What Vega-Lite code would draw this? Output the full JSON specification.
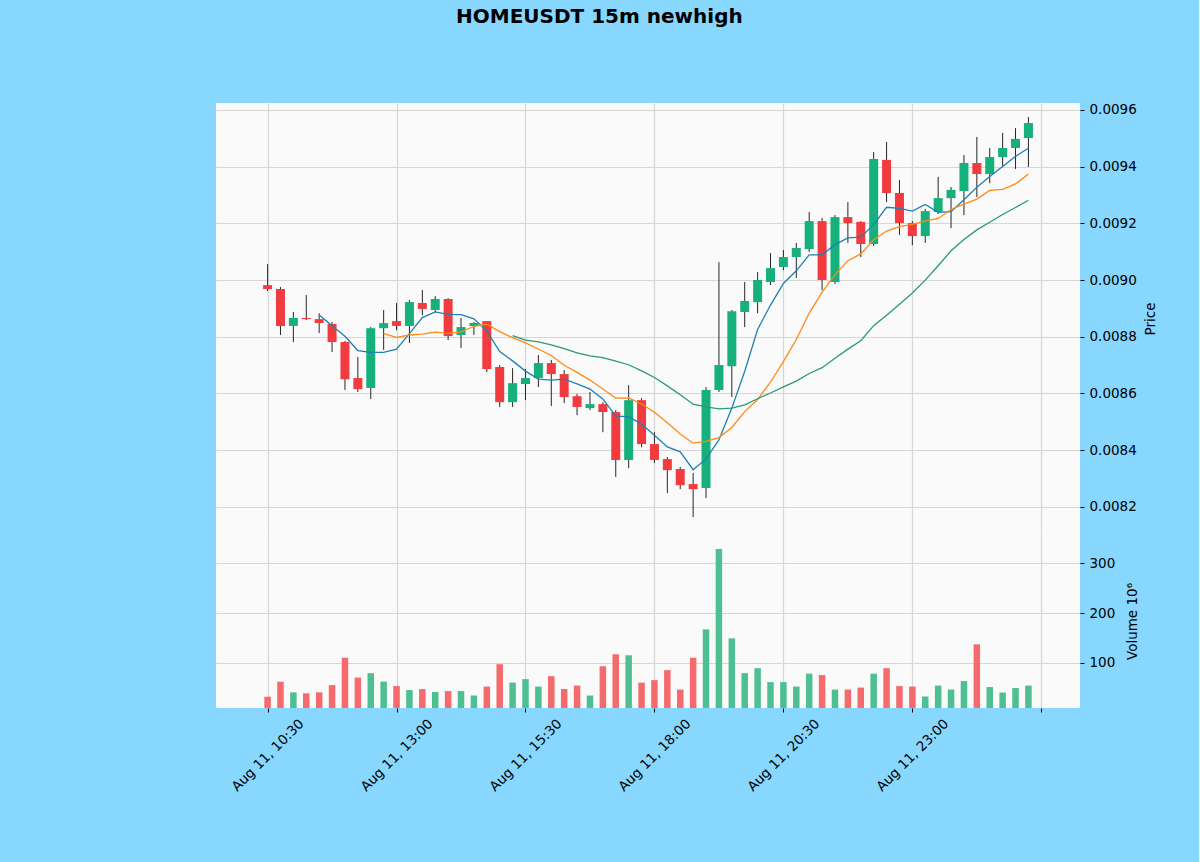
{
  "$schema": "https://vega.github.io/schema/vega-lite/v6.json",
  "background": "#87d7ff",
  "padding": {"left": 216, "top": 6, "right": 42, "bottom": 68},
  "title": {
    "text": "HOMEUSDT 15m newhigh",
    "font": "DejaVu Sans",
    "fontSize": 20,
    "fontWeight": "bold",
    "color": "#000000",
    "anchor": "start",
    "dx": 240,
    "offset": 76
  },
  "data": {
    "values": [
      {"t": "2025-08-11T10:30:00Z", "open": 0.008982, "high": 0.009056, "low": 0.008961, "close": 0.008968, "volume": 31600000},
      {"t": "2025-08-11T10:45:00Z", "open": 0.008968, "high": 0.008975, "low": 0.008806, "close": 0.008838, "volume": 61800000},
      {"t": "2025-08-11T11:00:00Z", "open": 0.008838, "high": 0.008887, "low": 0.008781, "close": 0.008866, "volume": 40400000},
      {"t": "2025-08-11T11:15:00Z", "open": 0.008866, "high": 0.008947, "low": 0.008859, "close": 0.008862, "volume": 38400000},
      {"t": "2025-08-11T11:30:00Z", "open": 0.008862, "high": 0.008883, "low": 0.008813, "close": 0.008848, "volume": 40400000, "ma5": 0.0088764},
      {"t": "2025-08-11T11:45:00Z", "open": 0.008845, "high": 0.008852, "low": 0.008746, "close": 0.008781, "volume": 55000000, "ma5": 0.0088390},
      {"t": "2025-08-11T12:00:00Z", "open": 0.008781, "high": 0.008785, "low": 0.008612, "close": 0.008650, "volume": 110000000, "ma5": 0.0088014},
      {"t": "2025-08-11T12:15:00Z", "open": 0.008654, "high": 0.008728, "low": 0.008605, "close": 0.008615, "volume": 70000000, "ma5": 0.0087512},
      {"t": "2025-08-11T12:30:00Z", "open": 0.008619, "high": 0.008834, "low": 0.008580, "close": 0.008830, "volume": 79000000, "ma5": 0.0087448},
      {"t": "2025-08-11T12:45:00Z", "open": 0.008830, "high": 0.008894, "low": 0.008753, "close": 0.008848, "volume": 62000000, "ma5": 0.0087448, "ma10": 0.0088106},
      {"t": "2025-08-11T13:00:00Z", "open": 0.008855, "high": 0.008919, "low": 0.008823, "close": 0.008838, "volume": 53000000, "ma5": 0.0087562, "ma10": 0.0087976},
      {"t": "2025-08-11T13:15:00Z", "open": 0.008838, "high": 0.008929, "low": 0.008778, "close": 0.008922, "volume": 45000000, "ma5": 0.0088106, "ma10": 0.0088060},
      {"t": "2025-08-11T13:30:00Z", "open": 0.008919, "high": 0.008965, "low": 0.008876, "close": 0.008898, "volume": 47000000, "ma5": 0.0088672, "ma10": 0.0088092},
      {"t": "2025-08-11T13:45:00Z", "open": 0.008894, "high": 0.008943, "low": 0.008887, "close": 0.008933, "volume": 41000000, "ma5": 0.0088878, "ma10": 0.0088163},
      {"t": "2025-08-11T14:00:00Z", "open": 0.008933, "high": 0.008936, "low": 0.008788, "close": 0.008802, "volume": 43000000, "ma5": 0.0088786, "ma10": 0.0088117},
      {"t": "2025-08-11T14:15:00Z", "open": 0.008806, "high": 0.008866, "low": 0.008760, "close": 0.008834, "volume": 43000000, "ma5": 0.0088778, "ma10": 0.0088170},
      {"t": "2025-08-11T14:30:00Z", "open": 0.008838, "high": 0.008852, "low": 0.008806, "close": 0.008848, "volume": 34000000, "ma5": 0.0088630, "ma10": 0.0088368},
      {"t": "2025-08-11T14:45:00Z", "open": 0.008855, "high": 0.008855, "low": 0.008675, "close": 0.008686, "volume": 52000000, "ma5": 0.0088206, "ma10": 0.0088439},
      {"t": "2025-08-11T15:00:00Z", "open": 0.008693, "high": 0.008700, "low": 0.008552, "close": 0.008569, "volume": 97000000, "ma5": 0.0087478, "ma10": 0.0088178},
      {"t": "2025-08-11T15:15:00Z", "open": 0.008569, "high": 0.008689, "low": 0.008552, "close": 0.008636, "volume": 60000000, "ma5": 0.0087146, "ma10": 0.0087966, "ma20": 0.0088036},
      {"t": "2025-08-11T15:30:00Z", "open": 0.008633, "high": 0.008686, "low": 0.008576, "close": 0.008654, "volume": 67000000, "ma5": 0.0086786, "ma10": 0.0087782, "ma20": 0.0087879},
      {"t": "2025-08-11T15:45:00Z", "open": 0.008654, "high": 0.008735, "low": 0.008622, "close": 0.008707, "volume": 52000000, "ma5": 0.0086504, "ma10": 0.0087567, "ma20": 0.0087814},
      {"t": "2025-08-11T16:00:00Z", "open": 0.008707, "high": 0.008718, "low": 0.008555, "close": 0.008668, "volume": 73000000, "ma5": 0.0086468, "ma10": 0.0087337, "ma20": 0.0087715},
      {"t": "2025-08-11T16:15:00Z", "open": 0.008668, "high": 0.008682, "low": 0.008566, "close": 0.008587, "volume": 47000000, "ma5": 0.0086504, "ma10": 0.0086991, "ma20": 0.0087577},
      {"t": "2025-08-11T16:30:00Z", "open": 0.008590, "high": 0.008598, "low": 0.008523, "close": 0.008552, "volume": 54000000, "ma5": 0.0086336, "ma10": 0.0086741, "ma20": 0.0087429},
      {"t": "2025-08-11T16:45:00Z", "open": 0.008548, "high": 0.008605, "low": 0.008541, "close": 0.008562, "volume": 34000000, "ma5": 0.0086152, "ma10": 0.0086469, "ma20": 0.0087320},
      {"t": "2025-08-11T17:00:00Z", "open": 0.008562, "high": 0.008569, "low": 0.008463, "close": 0.008534, "volume": 93000000, "ma5": 0.0085806, "ma10": 0.0086155, "ma20": 0.0087262},
      {"t": "2025-08-11T17:15:00Z", "open": 0.008534, "high": 0.008541, "low": 0.008305, "close": 0.008365, "volume": 117000000, "ma5": 0.0085200, "ma10": 0.0085834, "ma20": 0.0087137},
      {"t": "2025-08-11T17:30:00Z", "open": 0.008365, "high": 0.008629, "low": 0.008336, "close": 0.008576, "volume": 115000000, "ma5": 0.0085178, "ma10": 0.0085841, "ma20": 0.0087010},
      {"t": "2025-08-11T17:45:00Z", "open": 0.008576, "high": 0.008583, "low": 0.008410, "close": 0.008421, "volume": 60000000, "ma5": 0.0084916, "ma10": 0.0085626, "ma20": 0.0086796},
      {"t": "2025-08-11T18:00:00Z", "open": 0.008421, "high": 0.008463, "low": 0.008354, "close": 0.008365, "volume": 65000000, "ma5": 0.0084522, "ma10": 0.0085337, "ma20": 0.0086560},
      {"t": "2025-08-11T18:15:00Z", "open": 0.008368, "high": 0.008375, "low": 0.008248, "close": 0.008329, "volume": 85000000, "ma5": 0.0084112, "ma10": 0.0084959, "ma20": 0.0086263},
      {"t": "2025-08-11T18:30:00Z", "open": 0.008333, "high": 0.008340, "low": 0.008262, "close": 0.008276, "volume": 46000000, "ma5": 0.0083934, "ma10": 0.0084567, "ma20": 0.0085952},
      {"t": "2025-08-11T18:45:00Z", "open": 0.008280, "high": 0.008319, "low": 0.008163, "close": 0.008262, "volume": 110000000, "ma5": 0.0083306, "ma10": 0.0084242, "ma20": 0.0085617},
      {"t": "2025-08-11T19:00:00Z", "open": 0.008266, "high": 0.008622, "low": 0.008230, "close": 0.008612, "volume": 167000000, "ma5": 0.0083688, "ma10": 0.0084302, "ma20": 0.0085522},
      {"t": "2025-08-11T19:15:00Z", "open": 0.008612, "high": 0.009063, "low": 0.008605, "close": 0.008700, "volume": 329000000, "ma5": 0.0084358, "ma10": 0.0084440, "ma20": 0.0085455},
      {"t": "2025-08-11T19:30:00Z", "open": 0.008696, "high": 0.008894, "low": 0.008587, "close": 0.008890, "volume": 149000000, "ma5": 0.0085480, "ma10": 0.0084796, "ma20": 0.0085476},
      {"t": "2025-08-11T19:45:00Z", "open": 0.008887, "high": 0.008993, "low": 0.008834, "close": 0.008926, "volume": 79000000, "ma5": 0.0086780, "ma10": 0.0085357, "ma20": 0.0085596},
      {"t": "2025-08-11T20:00:00Z", "open": 0.008922, "high": 0.009028, "low": 0.008883, "close": 0.009000, "volume": 89000000, "ma5": 0.0088256, "ma10": 0.0085781, "ma20": 0.0085811},
      {"t": "2025-08-11T20:15:00Z", "open": 0.008993, "high": 0.009095, "low": 0.008982, "close": 0.009042, "volume": 61000000, "ma5": 0.0089116, "ma10": 0.0086402, "ma20": 0.0086014},
      {"t": "2025-08-11T20:30:00Z", "open": 0.009046, "high": 0.009106, "low": 0.009035, "close": 0.009081, "volume": 61000000, "ma5": 0.0089878, "ma10": 0.0087118, "ma20": 0.0086228},
      {"t": "2025-08-11T20:45:00Z", "open": 0.009081, "high": 0.009131, "low": 0.009007, "close": 0.009113, "volume": 52000000, "ma5": 0.0090324, "ma10": 0.0087902, "ma20": 0.0086431},
      {"t": "2025-08-11T21:00:00Z", "open": 0.009109, "high": 0.009240, "low": 0.009099, "close": 0.009208, "volume": 78000000, "ma5": 0.0090888, "ma10": 0.0088834, "ma20": 0.0086701},
      {"t": "2025-08-11T21:15:00Z", "open": 0.009208, "high": 0.009219, "low": 0.008965, "close": 0.009000, "volume": 75000000, "ma5": 0.0090888, "ma10": 0.0089572, "ma20": 0.0086907},
      {"t": "2025-08-11T21:30:00Z", "open": 0.008993, "high": 0.009229, "low": 0.008986, "close": 0.009222, "volume": 46000000, "ma5": 0.0091248, "ma10": 0.0090182, "ma20": 0.0087242},
      {"t": "2025-08-11T21:45:00Z", "open": 0.009222, "high": 0.009275, "low": 0.009131, "close": 0.009201, "volume": 46000000, "ma5": 0.0091488, "ma10": 0.0090683, "ma20": 0.0087562},
      {"t": "2025-08-11T22:00:00Z", "open": 0.009205, "high": 0.009208, "low": 0.009081, "close": 0.009127, "volume": 50000000, "ma5": 0.0091516, "ma10": 0.0090920, "ma20": 0.0087858},
      {"t": "2025-08-11T22:15:00Z", "open": 0.009127, "high": 0.009452, "low": 0.009120, "close": 0.009427, "volume": 78000000, "ma5": 0.0091954, "ma10": 0.0091421, "ma20": 0.0088389},
      {"t": "2025-08-11T22:30:00Z", "open": 0.009424, "high": 0.009487, "low": 0.009275, "close": 0.009307, "volume": 89000000, "ma5": 0.0092568, "ma10": 0.0091728, "ma20": 0.0088755},
      {"t": "2025-08-11T22:45:00Z", "open": 0.009307, "high": 0.009353, "low": 0.009159, "close": 0.009201, "volume": 53000000, "ma5": 0.0092526, "ma10": 0.0091887, "ma20": 0.0089145},
      {"t": "2025-08-11T23:00:00Z", "open": 0.009201, "high": 0.009208, "low": 0.009123, "close": 0.009155, "volume": 52000000, "ma5": 0.0092434, "ma10": 0.0091961, "ma20": 0.0089540},
      {"t": "2025-08-11T23:15:00Z", "open": 0.009155, "high": 0.009251, "low": 0.009131, "close": 0.009243, "volume": 32000000, "ma5": 0.0092666, "ma10": 0.0092091, "ma20": 0.0089997},
      {"t": "2025-08-11T23:30:00Z", "open": 0.009240, "high": 0.009364, "low": 0.009233, "close": 0.009289, "volume": 54000000, "ma5": 0.0092390, "ma10": 0.0092172, "ma20": 0.0090503},
      {"t": "2025-08-11T23:45:00Z", "open": 0.009289, "high": 0.009328, "low": 0.009183, "close": 0.009318, "volume": 46000000, "ma5": 0.0092412, "ma10": 0.0092490, "ma20": 0.0091031},
      {"t": "2025-08-12T00:00:00Z", "open": 0.009314, "high": 0.009441, "low": 0.009229, "close": 0.009413, "volume": 63000000, "ma5": 0.0092836, "ma10": 0.0092681, "ma20": 0.0091432},
      {"t": "2025-08-12T00:15:00Z", "open": 0.009413, "high": 0.009505, "low": 0.009293, "close": 0.009374, "volume": 137000000, "ma5": 0.0093274, "ma10": 0.0092854, "ma20": 0.0091769},
      {"t": "2025-08-12T00:30:00Z", "open": 0.009374, "high": 0.009466, "low": 0.009342, "close": 0.009434, "volume": 51000000, "ma5": 0.0093656, "ma10": 0.0093161, "ma20": 0.0092041},
      {"t": "2025-08-12T00:45:00Z", "open": 0.009434, "high": 0.009519, "low": 0.009399, "close": 0.009466, "volume": 40000000, "ma5": 0.0094010, "ma10": 0.0093200, "ma20": 0.0092311},
      {"t": "2025-08-12T01:00:00Z", "open": 0.009466, "high": 0.009536, "low": 0.009392, "close": 0.009498, "volume": 49000000, "ma5": 0.0094370, "ma10": 0.0093391, "ma20": 0.0092560},
      {"t": "2025-08-12T01:15:00Z", "open": 0.009501, "high": 0.009575, "low": 0.009399, "close": 0.009554, "volume": 54000000, "ma5": 0.0094652, "ma10": 0.0093744, "ma20": 0.0092816}
    ]
  },
  "spacing": 0,
  "config": {
    "view": {"fill": "#fafafa", "stroke": null},
    "axis": {
      "labelFont": "DejaVu Sans",
      "titleFont": "DejaVu Sans",
      "labelFontSize": 13.5,
      "titleFontSize": 13.5,
      "titleFontWeight": "normal",
      "labelColor": "#000000",
      "titleColor": "#000000",
      "tickColor": "#000000",
      "tickSize": 4,
      "domain": false,
      "gridColor": "#d6d6d6",
      "gridWidth": 1.2
    }
  },
  "vconcat": [
    {
      "width": 864,
      "height": 431,
      "encoding": {
        "x": {
          "field": "t",
          "type": "temporal",
          "scale": {
            "type": "utc",
            "padding": 0,
            "domain": [
              {"year": 2025, "month": 8, "date": 11, "hours": 9, "minutes": 30, "utc": true},
              {"year": 2025, "month": 8, "date": 12, "hours": 2, "minutes": 15, "utc": true}
            ]
          },
          "axis": {
            "values": [
              {"year": 2025, "month": 8, "date": 11, "hours": 10, "minutes": 30, "utc": true},
              {"year": 2025, "month": 8, "date": 11, "hours": 13, "minutes": 0, "utc": true},
              {"year": 2025, "month": 8, "date": 11, "hours": 15, "minutes": 30, "utc": true},
              {"year": 2025, "month": 8, "date": 11, "hours": 18, "minutes": 0, "utc": true},
              {"year": 2025, "month": 8, "date": 11, "hours": 20, "minutes": 30, "utc": true},
              {"year": 2025, "month": 8, "date": 11, "hours": 23, "minutes": 0, "utc": true},
              {"year": 2025, "month": 8, "date": 12, "hours": 1, "minutes": 30, "utc": true}
            ],
            "labels": false,
            "ticks": false,
            "title": null,
            "grid": true
          }
        }
      },
      "layer": [
        {
          "mark": {"type": "rule", "color": "#262626", "strokeWidth": 1},
          "encoding": {
            "y": {
              "field": "low",
              "type": "quantitative",
              "scale": {"domain": [0.0081037, 0.0096247], "zero": false, "nice": false},
              "axis": {
                "orient": "right",
                "values": [0.0082, 0.0084, 0.0086, 0.0088, 0.009, 0.0092, 0.0094, 0.0096],
                "format": ".4f",
                "labelPadding": 5,
                "title": "Price",
                "titleAngle": -90,
                "titleBaseline": "top",
                "titlePadding": 7,
                "grid": true
              }
            },
            "y2": {"field": "high"}
          }
        },
        {
          "mark": {"type": "bar", "width": 9},
          "encoding": {
            "y": {"field": "open", "type": "quantitative"},
            "y2": {"field": "close"},
            "color": {
              "condition": {"test": "datum.close >= datum.open", "value": "#15b07c"},
              "value": "#f23b3f"
            }
          }
        },
        {
          "mark": {"type": "line", "color": "#1f80b0", "strokeWidth": 1.3},
          "encoding": {"y": {"field": "ma5", "type": "quantitative"}}
        },
        {
          "mark": {"type": "line", "color": "#ff8a14", "strokeWidth": 1.3},
          "encoding": {"y": {"field": "ma10", "type": "quantitative"}}
        },
        {
          "mark": {"type": "line", "color": "#2a9a70", "strokeWidth": 1.3},
          "encoding": {"y": {"field": "ma20", "type": "quantitative"}}
        }
      ]
    },
    {
      "width": 864,
      "height": 174,
      "mark": {"type": "bar", "width": 6.5, "clip": true},
      "encoding": {
        "x": {
          "field": "t",
          "type": "temporal",
          "scale": {
            "type": "utc",
            "padding": 0,
            "domain": [
              {"year": 2025, "month": 8, "date": 11, "hours": 9, "minutes": 30, "utc": true},
              {"year": 2025, "month": 8, "date": 12, "hours": 2, "minutes": 15, "utc": true}
            ]
          },
          "axis": {
            "values": [
              {"year": 2025, "month": 8, "date": 11, "hours": 10, "minutes": 30, "utc": true},
              {"year": 2025, "month": 8, "date": 11, "hours": 13, "minutes": 0, "utc": true},
              {"year": 2025, "month": 8, "date": 11, "hours": 15, "minutes": 30, "utc": true},
              {"year": 2025, "month": 8, "date": 11, "hours": 18, "minutes": 0, "utc": true},
              {"year": 2025, "month": 8, "date": 11, "hours": 20, "minutes": 30, "utc": true},
              {"year": 2025, "month": 8, "date": 11, "hours": 23, "minutes": 0, "utc": true},
              {"year": 2025, "month": 8, "date": 12, "hours": 1, "minutes": 30, "utc": true}
            ],
            "labelExpr": "utchours(datum.value) == 1 ? '' : utcFormat(datum.value, '%b %d, %H:%M')",
            "labelAngle": -45,
            "labelAlign": "center",
            "labelBaseline": "middle",
            "labelPadding": 43,
            "title": null,
            "grid": true
          }
        },
        "y": {
          "field": "volume",
          "type": "quantitative",
          "scale": {"domain": [8900000, 359000000], "zero": false, "nice": false},
          "axis": {
            "orient": "right",
            "values": [100000000, 200000000, 300000000],
            "labelExpr": "format(datum.value / 1000000, 'd')",
            "labelPadding": 5,
            "title": "Volume  10⁶",
            "titleAngle": -90,
            "titleBaseline": "top",
            "titlePadding": 11,
            "grid": true
          }
        },
        "color": {
          "condition": {"test": "datum.close >= datum.open", "value": "#4dbf93"},
          "value": "#f56a6c"
        }
      }
    }
  ]
}
